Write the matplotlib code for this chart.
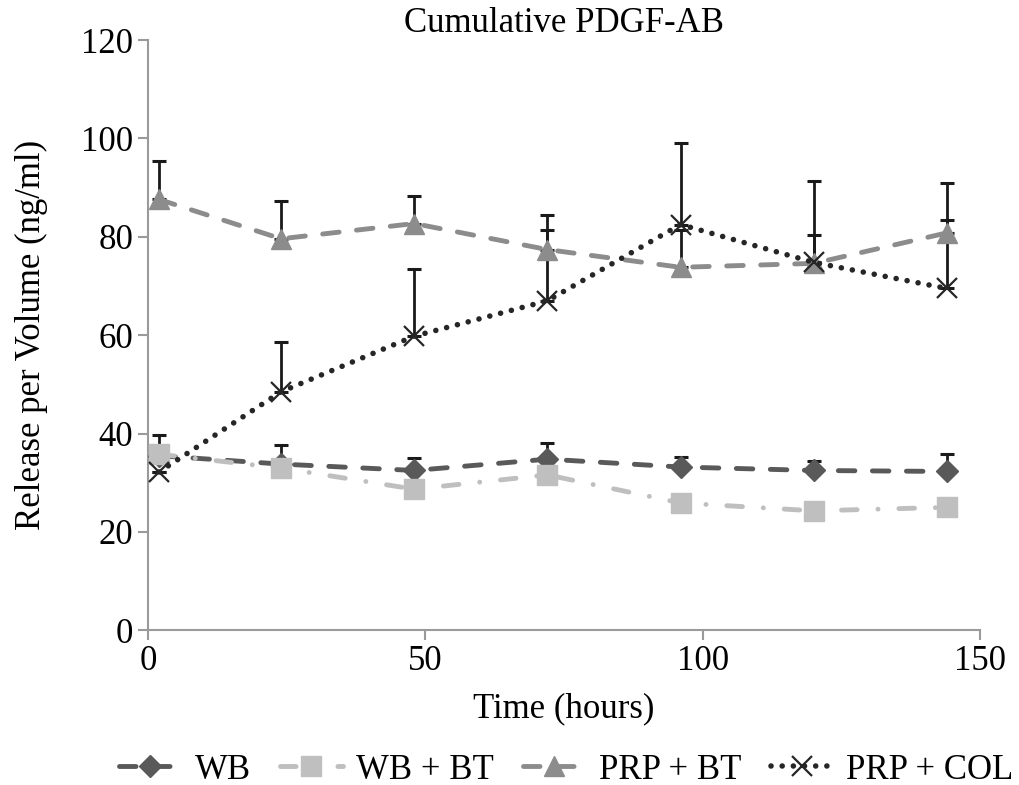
import numpy as np
import matplotlib.pyplot as plt

plt.rcParams['font.family'] = ['Liberation Serif', 'DejaVu Serif']

hours = [2, 24, 48, 72, 96, 120, 144]

wb = [35.5, 33.8, 32.5, 34.8, 33.2, 32.5, 32.3]
wb_err = [4.2, 3.8, 2.5, 3.2, 2.0, 1.9, 3.5]

wb_bt = [35.8, 33.0, 28.7, 31.6, 25.9, 24.3, 25.0]

prp_bt = [87.6, 79.6, 82.7, 77.4, 73.8, 74.6, 80.8]
prp_bt_err = [7.9, 7.6, 5.6, 3.9, 7.5, 5.7, 10.2]

prp_col = [32.2, 48.5, 59.8, 67.0, 82.5, 74.8, 69.5]
prp_col_err = [0.0, 10.1, 13.6, 17.4, 16.6, 16.6, 13.9]

fig = plt.figure(figsize=(10.2, 7.85), dpi=100)
ax = fig.add_axes([0.145, 0.197, 0.816, 0.752])

# error bars (upper only), drawn under the lines
for y, e in [(wb, wb_err), (prp_bt, prp_bt_err), (prp_col, prp_col_err)]:
    ax.errorbar(hours, y, yerr=[np.zeros(len(e)), e], fmt='none',
                ecolor='#1a1a1a', elinewidth=2.0, capsize=5, capthick=2.2, zorder=2)

ax.plot(hours, wb, color='#595959', lw=3.5, ls=(0, (3.4, 3.6)), dash_capstyle='round',
        marker='D', ms=11, label='WB', zorder=3)
ax.plot(hours, wb_bt, color='#bfbfbf', lw=3.5, ls=(0, (3.2, 4.3, 0.01, 4.3)),
        dash_capstyle='round', marker='s', ms=14, label='WB + BT', zorder=3)
ax.plot(hours, prp_bt, color='#8c8c8c', lw=3.5, ls=(0, (3.4, 3.6)), dash_capstyle='round',
        marker='^', ms=14, label='PRP + BT', zorder=3)
ax.plot(hours, prp_col, color='#262626', lw=4, ls=(0, (0.01, 2.0)), dash_capstyle='round',
        marker='x', ms=15, mew=1.6, label='PRP + COL', zorder=4)

ax.set_xlim(0, 150)
ax.set_ylim(0, 120)
ax.set_xticks([0, 50, 100, 150])
ax.set_yticks(range(0, 121, 20))
ax.tick_params(labelsize=25, color='#9a9a9a', length=7, width=1.5)
for s in ['top', 'right']:
    ax.spines[s].set_visible(False)
for s in ['left', 'bottom']:
    ax.spines[s].set_color('#9a9a9a')
    ax.spines[s].set_linewidth(1.5)

ax.set_xlabel('Time (hours)', fontsize=25, labelpad=10)
ax.set_ylabel('Release per Volume (ng/ml)', fontsize=25, labelpad=24)
ax.set_title('Cumulative PDGF-AB', fontsize=25, pad=2)

fig.legend(loc='center', ncol=4, frameon=False, fontsize=25,
           bbox_to_anchor=(0.555, 0.019), handlelength=1.8, handletextpad=0.38,
           columnspacing=0.85)

fig.savefig('out.png', dpi=100)
